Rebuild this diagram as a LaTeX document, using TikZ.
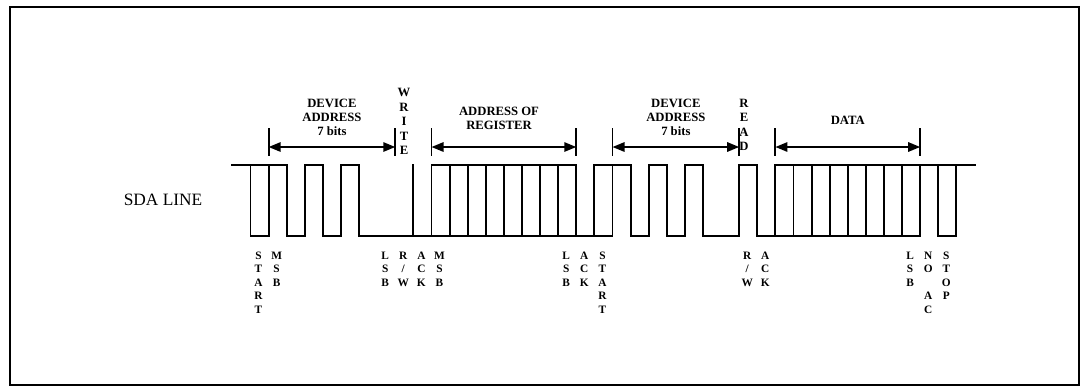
\documentclass[tikz,border=0pt]{standalone}
\usepackage{fontspec}
\setmainfont{Liberation Serif}
\setsansfont{Liberation Sans}
\usetikzlibrary{arrows.meta, calc}

% x position of bit slot boundary #1
\newcommand{\slotx}[1]{250.5+18.1*#1}
\newcommand{\yhi}{165}
\newcommand{\ylo}{236}

\begin{document}
\begin{tikzpicture}[x=0.75pt, y=-0.75pt,
  every node/.style={inner sep=0pt},
  wave/.style={line width=1.4pt, line cap=rect},
  dim/.style={line width=1.4pt, {Triangle[length=9pt,width=7pt]}-{Triangle[length=9pt,width=7pt]}},
  bar/.style={line width=1.4pt},
  head/.style={font=\bfseries\fontsize{9.5}{10.5}\selectfont, align=center, anchor=south},
  col/.style={font=\bfseries\fontsize{9.5}{10.9}\selectfont, align=center, anchor=south},
  bit/.style={font=\bfseries\fontsize{8.5}{10.1}\selectfont, align=center, anchor=north}]
  \useasboundingbox (0,0) rectangle (1084,387);
  % frame
  \draw[line width=1.5pt] (10,7) rectangle (1079,385);
  % line name
  \node[font=\fontsize{13}{15}\selectfont] (sda) at (163,200) {SDA LINE};
  % high level
  \draw[wave] (232,\yhi) -- ({\slotx{2}},\yhi);
  \foreach \a/\b in {3/4,5/6,10/18,19/21,22/23,24/25,27/28}
    \draw[wave] ({\slotx{\a}},\yhi) -- ({\slotx{\b}},\yhi);
  \draw[wave] ({\slotx{29}},\yhi) -- (975,\yhi);
  % low level
  \foreach \a/\b in {0/1,2/3,4/5,6/20,21/22,23/24,25/27,28/37,38/39}
    \draw[wave] ({\slotx{\a}},\ylo) -- ({\slotx{\b}},\ylo);
  % edges and bit marks
  \foreach \k in {0,...,6,9,10,...,25,27,28,...,39}
    \draw[wave] ({\slotx{\k}},\yhi) -- ({\slotx{\k}},\ylo);
  % field arrows
  \foreach \n/\a/\b in {devA/1/8,regA/10/18,devB/20/27,data/29/37}{
    \coordinate (\n-w) at ({\slotx{\a}},147);
    \coordinate (\n-e) at ({\slotx{\b}},147);
    \draw[bar] ($(\n-w)+(0,-19)$) -- ($(\n-w)+(0,9)$);
    \draw[bar] ($(\n-e)+(0,-19)$) -- ($(\n-e)+(0,9)$);
    \draw[dim] (\n-w) -- (\n-e);
  }
  % field names
  \node[head] (devAtxt) at ({\slotx{4.5}},136) {DEVICE\\ADDRESS\\7 bits};
  \node[col]  (wr)      at (404,155) {W\\R\\I\\T\\E};
  \node[head] (regAtxt) at (499,130) {ADDRESS OF\\REGISTER};
  \node[head] (devBtxt) at ({\slotx{23.5}},136) {DEVICE\\ADDRESS\\7 bits};
  \node[col]  (rd)      at (744,151) {R\\E\\A\\D};
  \node[head] (datatxt) at ({\slotx{33}},125) {DATA};
  % bit names
  \foreach \n/\k/\t in {startA/0/{S\\T\\A\\R\\T}, msbA/1/{M\\S\\B}, lsbA/7/{L\\S\\B},
      rwA/8/{R\\/\\W}, ackA/9/{A\\C\\K}, msbB/10/{M\\S\\B}, lsbB/17/{L\\S\\B},
      ackB/18/{A\\C\\K}, startB/19/{S\\T\\A\\R\\T}, rwB/27/{R\\/\\W}, ackC/28/{A\\C\\K},
      lsbC/36/{L\\S\\B}, noack/37/{N\\O\\~\\A\\C}, stop/38/{S\\T\\O\\P}}
    \node[bit] (\n) at ({\slotx{\k}+8},251.5) {\t};
\end{tikzpicture}
\end{document}
